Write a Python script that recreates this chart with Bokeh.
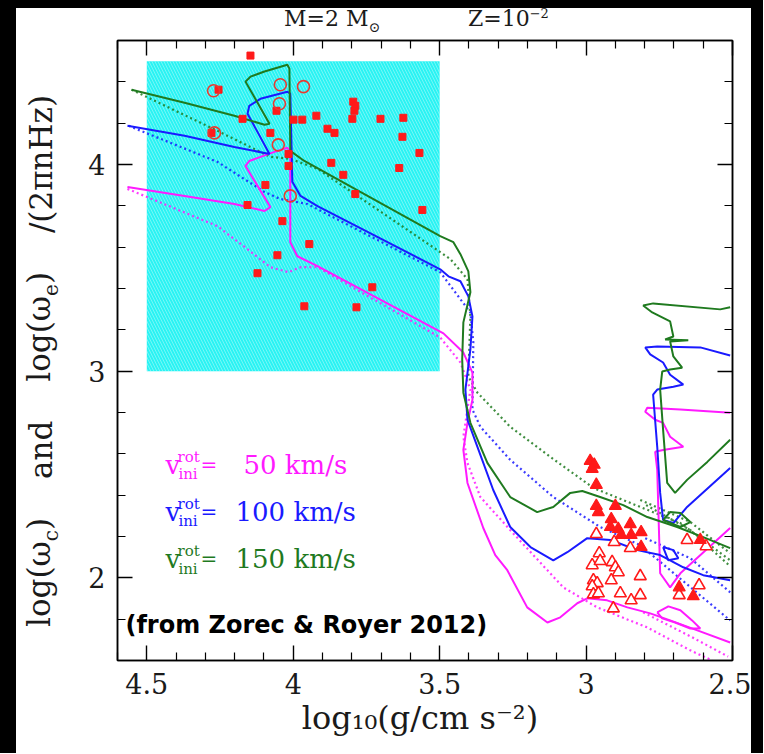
from bokeh.plotting import figure
from bokeh.models import Range1d, FixedTicker, LinearAxis, Label, Div
from bokeh.layouts import row, column
from bokeh.embed import file_html
from bokeh.resources import INLINE

# ---------------- data ----------------
x_tick_vals = [4.5, 4.0, 3.5, 3.0, 2.5]
x_tick_labels = ["4.5", "4", "3.5", "3", "2.5"]
x_minor_vals = [4.6, 4.4, 4.3, 4.2, 4.1, 3.9, 3.8, 3.7, 3.6, 3.4, 3.3, 3.2, 3.1,
                2.9, 2.8, 2.7, 2.6]
y_tick_vals = [2, 3, 4]
y_minor_vals = [1.6, 1.8, 2.2, 2.4, 2.6, 2.8, 3.2, 3.4, 3.6, 3.8, 4.2, 4.4, 4.6]

# observed Be-star box (log g range, log omega range)
box_logg = [4.5, 3.5]
box_logw = [3.0, 4.5]

# 150 km/s (green)
g150_sol_x = [4.552, 4.371, 4.201, 4.098, 4.081, 4.163, 4.146, 4.098, 4.020, 4.013, 4.010,
              3.962, 3.498, 3.453, 3.429, 3.402, 3.395, 3.419, 3.423, 3.419, 3.395, 3.337,
              3.259, 3.167, 3.112, 3.054, 3.013, 2.952, 2.873, 2.791, 2.689, 2.600, 2.508]
g150_sol_y = [4.362, 4.299, 4.236, 4.192, 4.197, 4.401, 4.425, 4.450, 4.483, 4.464, 4.066,
              4.017, 3.653, 3.624, 3.566, 3.483, 3.382, 3.236, 3.056, 2.896, 2.750, 2.556,
              2.391, 2.318, 2.343, 2.411, 2.420, 2.391, 2.352, 2.294, 2.246, 2.197, 2.144]
g150_rt_x = [2.508, 2.542, 2.771, 2.805, 2.774, 2.713, 2.702, 2.730, 2.651, 2.713, 2.702,
             2.672, 2.713, 2.740, 2.747, 2.737, 2.723, 2.696, 2.655, 2.586, 2.508]
g150_rt_y = [3.309, 3.299, 3.328, 3.318, 3.284, 3.241, 3.168, 3.153, 3.149, 3.144, 3.071,
             3.017, 3.008, 2.998, 2.911, 2.717, 2.459, 2.411, 2.474, 2.561, 2.668]
g150_loop_x = [2.737, 2.713, 2.678, 2.644, 2.678, 2.737]
g150_loop_y = [2.280, 2.318, 2.314, 2.270, 2.246, 2.280]
g150_dot_x = [4.552, 4.259, 4.078, 4.010, 3.917, 3.498, 3.463, 3.405, 3.395, 3.402, 3.371,
              3.259, 3.122, 2.975, 2.815, 2.678, 2.508]
g150_dot_y = [4.362, 4.163, 4.037, 4.027, 3.979, 3.576, 3.542, 3.445, 3.265, 2.974, 2.896,
              2.731, 2.585, 2.435, 2.343, 2.265, 2.085]
g150_dot2_x = [2.815, 2.644, 2.508]
g150_dot2_y = [2.377, 2.270, 2.119]
g150_dot3_x = [2.795, 2.644, 2.508]
g150_dot3_y = [2.352, 2.231, 2.056]

# 100 km/s (blue)
b100_sol_x = [4.566, 4.371, 4.201, 4.081, 4.156, 4.150, 4.112, 4.020, 4.010, 4.003, 3.975,
              3.917, 3.498, 3.470, 3.429, 3.402, 3.388, 3.395, 3.412, 3.405, 3.371, 3.317,
              3.259, 3.190, 3.112, 3.064, 2.996, 2.917, 2.825, 2.747, 2.668, 2.600, 2.508]
b100_sol_y = [4.187, 4.139, 4.085, 4.051, 4.246, 4.284, 4.318, 4.352, 4.343, 3.916, 3.848,
              3.799, 3.493, 3.459, 3.435, 3.362, 3.265, 3.105, 2.911, 2.765, 2.634, 2.425,
              2.246, 2.149, 2.085, 2.124, 2.192, 2.183, 2.134, 2.110, 2.051, 2.013, 1.988]
b100_rt_x = [2.508, 2.610, 2.757, 2.798, 2.781, 2.737, 2.713, 2.668, 2.702, 2.757, 2.771,
             2.757, 2.747, 2.737, 2.702, 2.655, 2.508]
b100_rt_y = [3.076, 3.115, 3.119, 3.115, 3.081, 3.042, 2.983, 2.935, 2.925, 2.911, 2.886,
             2.634, 2.411, 2.280, 2.265, 2.343, 2.532]
b100_loop_x = [2.737, 2.702, 2.685, 2.719, 2.737]
b100_loop_y = [2.149, 2.134, 2.095, 2.085, 2.149]
b100_dot_x = [4.562, 4.259, 4.098, 4.044, 3.952, 3.498, 3.429, 3.395, 3.385, 3.388, 3.361,
              3.259, 3.112, 2.952, 2.815, 2.508]
b100_dot_y = [4.187, 4.013, 3.867, 3.833, 3.809, 3.479, 3.348, 3.284, 3.139, 2.814, 2.731,
              2.571, 2.391, 2.246, 2.158, 1.794]
b100_dot2_x = [2.798, 2.644, 2.508]
b100_dot2_y = [2.192, 2.095, 1.930]

# 50 km/s (magenta)
m50_sol_x = [4.566, 4.371, 4.201, 4.098, 4.078, 4.163, 4.150, 4.064, 4.020, 4.010, 4.010,
             3.986, 3.917, 3.487, 3.419, 3.388, 3.388, 3.405, 3.419, 3.405, 3.351, 3.310,
             3.269, 3.201, 3.132, 3.088, 3.030, 2.996, 2.928, 2.859, 2.781, 2.713, 2.620, 2.508]
m50_sol_y = [3.891, 3.848, 3.809, 3.775, 3.794, 3.993, 4.017, 4.061, 4.081, 4.061, 3.624,
             3.556, 3.508, 3.183, 3.090, 2.993, 2.862, 2.750, 2.619, 2.459, 2.241, 2.110,
             2.037, 1.857, 1.784, 1.809, 1.877, 1.901, 1.891, 1.857, 1.828, 1.794, 1.746, 1.687]
m50_rt_x = [2.508, 2.678, 2.791, 2.798, 2.764, 2.737, 2.713, 2.668, 2.737, 2.764, 2.757,
            2.747, 2.713, 2.678, 2.508]
m50_rt_y = [2.799, 2.814, 2.823, 2.804, 2.765, 2.750, 2.683, 2.634, 2.619, 2.610, 2.522,
            2.022, 1.954, 2.022, 2.241]
m50_loop_x = [2.757, 2.719, 2.678, 2.638, 2.610, 2.644, 2.696, 2.740, 2.757]
m50_loop_y = [1.833, 1.862, 1.843, 1.794, 1.755, 1.755, 1.784, 1.804, 1.833]
m50_dot_x = [4.566, 4.259, 4.156, 4.078, 4.016, 3.975, 3.917, 3.498, 3.429, 3.395, 3.419,
             3.405, 3.361, 3.259, 3.078, 2.962, 2.791, 2.644, 2.569]
m50_dot_y = [3.882, 3.702, 3.590, 3.503, 3.479, 3.503, 3.503, 3.163, 3.042, 2.911, 2.683,
             2.556, 2.391, 2.231, 1.954, 1.857, 1.760, 1.649, 1.600]
m50_dot2_x = [2.805, 2.644, 2.515]
m50_dot2_y = [1.833, 1.717, 1.619]

# observed stars
sq_x = [4.146, 4.255, 4.057, 4.173, 3.999, 3.969, 3.921, 3.795, 3.788, 3.791, 3.798, 3.702,
        3.624, 3.883, 3.859, 3.627, 4.279, 4.078, 4.016, 4.016, 3.569, 3.870, 3.638, 3.829,
        4.095, 3.788, 4.156, 3.559, 4.037, 3.945, 4.054, 4.122, 3.730, 3.962, 3.784]
sq_y = [4.527, 4.362, 4.260, 4.221, 4.217, 4.217, 4.236, 4.304, 4.284, 4.260, 4.221, 4.221,
        4.226, 4.173, 4.153, 4.134, 4.153, 4.153, 4.051, 3.993, 4.056, 4.008, 3.983, 3.950,
        3.901, 3.857, 3.804, 3.780, 3.726, 3.615, 3.561, 3.474, 3.406, 3.314, 3.309]
circ_x = [4.272, 4.044, 3.965, 4.047, 4.269, 4.051, 4.010]
circ_y = [4.357, 4.386, 4.377, 4.294, 4.153, 4.095, 3.848]
tri_f_x = [2.986, 2.972, 2.979, 2.965, 2.965, 2.958, 2.900, 2.914, 2.917, 2.890, 2.880,
           2.849, 2.846, 2.812, 2.812, 2.610, 2.682, 2.634]
tri_f_y = [2.566, 2.547, 2.527, 2.450, 2.348, 2.318, 2.348, 2.284, 2.246, 2.236, 2.207,
           2.260, 2.207, 2.221, 2.149, 2.183, 1.954, 1.911]
tri_o_x = [2.965, 2.904, 2.849, 2.955, 2.979, 2.952, 2.911, 2.900, 2.890, 2.815, 2.975,
           2.962, 2.979, 2.914, 2.975, 2.958, 2.883, 2.815, 2.846, 2.907, 2.655, 2.590,
           2.682, 2.614]
tri_o_y = [2.212, 2.173, 2.144, 2.119, 2.061, 2.081, 2.076, 2.051, 2.027, 2.008, 1.988,
           1.974, 1.959, 1.988, 1.920, 1.925, 1.925, 1.916, 1.891, 1.852, 2.183, 2.153,
           1.916, 1.964]

speeds = ["50 km/s", "100 km/s", "150 km/s"]

# ---------------- styling ----------------
MAG = "#ff1aff"
BLU = "#1a1aff"
GRN = "#1f7a1f"
RED = "#ff1a1a"
INK = "#1a1a1a"
SERIF = "DejaVu Serif"

W, H = 763, 753
TOP_H = 34
LEFT_W = 70
RIGHT_W = 12
MAIN_W = W - LEFT_W - RIGHT_W
MAIN_H = H - TOP_H

# ---- title strip (HTML text, with black page band) ----
top_html = (
    f'<div style="position:relative;width:{W}px;height:{TOP_H}px;background:white;'
    f'overflow:hidden;font-family:\'{SERIF}\';color:{INK};">'
    f'<div style="position:absolute;left:0;top:0;width:{W}px;height:8px;background:black;"></div>'
    f'<div style="position:absolute;left:0;top:0;width:16px;height:{TOP_H}px;background:black;"></div>'
    f'<div style="position:absolute;left:{W - RIGHT_W}px;top:0;width:{RIGHT_W}px;'
    f'height:{TOP_H}px;background:black;"></div>'
    f'<div style="position:absolute;left:284px;top:8px;font-size:22px;line-height:22px;'
    f'white-space:nowrap;">M=2 M<span style="font-size:14px;position:relative;top:6px;">'
    f'\u2299</span></div>'
    f'<div style="position:absolute;left:468px;top:8px;font-size:22px;line-height:22px;'
    f'white-space:nowrap;">Z=10<span style="font-size:13px;position:relative;top:-8px;">'
    f'\u22122</span></div>'
    f'</div>'
)
top = Div(text=top_html, width=W, height=TOP_H, margin=0)

# ---- y-title strip (rotated HTML text) ----
YT_LEN = 532
YT_H = 38
left_html = (
    f'<div style="position:relative;width:{LEFT_W}px;height:{MAIN_H}px;'
    f'background:linear-gradient(to right,#000 0px,#000 16px,#fff 16px,#fff {LEFT_W}px);">'
    f'<div style="position:absolute;left:{41 - YT_H // 2}px;top:{627 - TOP_H}px;'
    f'width:{YT_LEN}px;height:{YT_H}px;transform-origin:0 0;transform:rotate(-90deg);'
    f'display:flex;justify-content:space-between;align-items:center;'
    f'font-family:\'{SERIF}\';font-size:31px;line-height:{YT_H}px;white-space:nowrap;color:{INK};">'
    f'<span>log(\u03c9<span style="font-size:20px;position:relative;top:8px;">c</span>)</span>'
    f'<span>and</span>'
    f'<span>log(\u03c9<span style="font-size:20px;position:relative;top:8px;">e</span>)</span>'
    f'<span>/(2\u03c0nHz)</span>'
    f'</div></div>'
)
left = Div(text=left_html, width=LEFT_W, height=MAIN_H, margin=0,
           styles={"background": "linear-gradient(to right,#000 0px,#000 16px,#fff 16px)"})

right = Div(text=f'<div style="width:{RIGHT_W}px;height:{MAIN_H}px;background:black;"></div>',
            width=RIGHT_W, height=MAIN_H, margin=0, styles={"background": "black"})

# ---- main plot ----
p = figure(width=MAIN_W, height=MAIN_H,
           min_border_left=117 - LEFT_W, min_border_right=(W - RIGHT_W) - 732,
           min_border_top=40 - TOP_H, min_border_bottom=H - 660,
           x_range=Range1d(4.6, 2.5), y_range=Range1d(1.6, 4.6),
           output_backend="svg", toolbar_location=None, margin=0)
p.grid.visible = False
p.outline_line_color = "black"
p.outline_line_width = 1.5
p.background_fill_color = "white"
p.border_fill_color = "white"

xt = FixedTicker(ticks=x_tick_vals, minor_ticks=x_minor_vals)
yt = FixedTicker(ticks=y_tick_vals, minor_ticks=y_minor_vals)


def style_axis(ax, show_labels):
    ax.axis_line_color = "black"
    ax.axis_line_width = 1.5
    ax.major_tick_line_color = "black"
    ax.major_tick_line_width = 1.4
    ax.minor_tick_line_color = "black"
    ax.minor_tick_line_width = 1.2
    ax.major_tick_in = 15
    ax.major_tick_out = 0
    ax.minor_tick_in = 8
    ax.minor_tick_out = 0
    if show_labels:
        ax.major_label_text_font = SERIF
        ax.major_label_text_font_size = "27px"
        ax.major_label_text_color = INK
        ax.major_label_standoff = 12
    else:
        ax.major_label_text_font_size = "0px"
        ax.major_label_text_color = None
        ax.major_label_standoff = 0


p.xaxis.ticker = xt
p.yaxis.ticker = yt
style_axis(p.xaxis[0], True)
style_axis(p.yaxis[0], True)
p.xaxis.major_label_overrides = {v: s for v, s in zip(x_tick_vals, x_tick_labels)}
p.xaxis.axis_label = "log\u2081\u2080(g/cm  s\u207b\u00b2)"
p.xaxis.axis_label_text_font = SERIF
p.xaxis.axis_label_text_font_size = "32px"
p.xaxis.axis_label_text_font_style = "normal"
p.xaxis.axis_label_text_color = INK
p.xaxis.axis_label_standoff = 2

top_ax = LinearAxis(ticker=xt)
style_axis(top_ax, False)
p.add_layout(top_ax, "above")
right_ax = LinearAxis(ticker=yt)
style_axis(right_ax, False)
p.add_layout(right_ax, "right")

# observed region
p.quad(left=[box_logg[0]], right=[box_logg[1]], bottom=[box_logw[0]], top=[box_logw[1]],
       fill_color="#2af3f3", line_color=None,
       hatch_pattern="\\", hatch_color="white", hatch_alpha=0.35,
       hatch_scale=6, hatch_weight=1)

DOT = "2 3"
for xs, ys, c in [(m50_dot_x, m50_dot_y, MAG), (m50_dot2_x, m50_dot2_y, MAG),
                  (b100_dot_x, b100_dot_y, BLU), (b100_dot2_x, b100_dot2_y, BLU),
                  (g150_dot_x, g150_dot_y, GRN), (g150_dot2_x, g150_dot2_y, GRN),
                  (g150_dot3_x, g150_dot3_y, GRN)]:
    p.line(xs, ys, line_color=c, line_width=2.2, line_dash=DOT, line_alpha=0.85)

for xs, ys, c in [(m50_sol_x, m50_sol_y, MAG), (m50_rt_x, m50_rt_y, MAG),
                  (m50_loop_x, m50_loop_y, MAG),
                  (b100_sol_x, b100_sol_y, BLU), (b100_rt_x, b100_rt_y, BLU),
                  (b100_loop_x, b100_loop_y, BLU),
                  (g150_sol_x, g150_sol_y, GRN), (g150_rt_x, g150_rt_y, GRN),
                  (g150_loop_x, g150_loop_y, GRN)]:
    p.line(xs, ys, line_color=c, line_width=2.0)

p.scatter(sq_x, sq_y, marker="square", size=7, fill_color=RED, line_color=RED)
p.scatter(circ_x, circ_y, marker="circle", size=12, fill_color=None,
          line_color="#e83a30", line_width=1.6)
p.scatter(tri_o_x, tri_o_y, marker="triangle", size=12, fill_color="white",
          line_color=RED, line_width=1.6)
p.scatter(tri_f_x, tri_f_y, marker="triangle", size=12, fill_color=RED,
          line_color=RED, line_width=1.2)

# legend-like texts
row_y = [2.547, 2.318, 2.090]
val_x = [4.170, 4.197, 4.197]
for s, c, yy, vx in zip(speeds, [MAG, BLU, GRN], row_y, val_x):
    p.add_layout(Label(x=4.436, y=yy, text="v", text_font=SERIF, text_font_size="26px",
                       text_color=c, text_baseline="middle", text_align="left"))
    p.add_layout(Label(x=4.395, y=yy + 0.040, text="rot", text_font=SERIF,
                       text_font_size="15px", text_color=c, text_baseline="middle"))
    p.add_layout(Label(x=4.392, y=yy - 0.045, text="ini", text_font=SERIF,
                       text_font_size="15px", text_color=c, text_baseline="middle"))
    p.add_layout(Label(x=4.317, y=yy, text="=", text_font=SERIF, text_font_size="20px",
                       text_color=c, text_baseline="middle"))
    p.add_layout(Label(x=vx, y=yy, text=s, text_font=SERIF, text_font_size="26px",
                       text_color=c, text_baseline="middle"))

p.add_layout(Label(x=4.573, y=1.770, text="(from Zorec & Royer 2012)",
                   text_font="DejaVu Sans", text_font_size="24px",
                   text_font_style="bold", text_color="black", text_baseline="middle"))

band_bg = ("linear-gradient(to right,#000 0px,#000 16px,#fff 16px,"
           f"#fff {W - RIGHT_W}px,#000 {W - RIGHT_W}px,#000 {W}px)")
layout = column(top, row(left, p, right, margin=0, spacing=0,
                         styles={"background": band_bg}),
                margin=0, spacing=0, styles={"background": band_bg})

open("out.html", "w").write(file_html(layout, INLINE))
